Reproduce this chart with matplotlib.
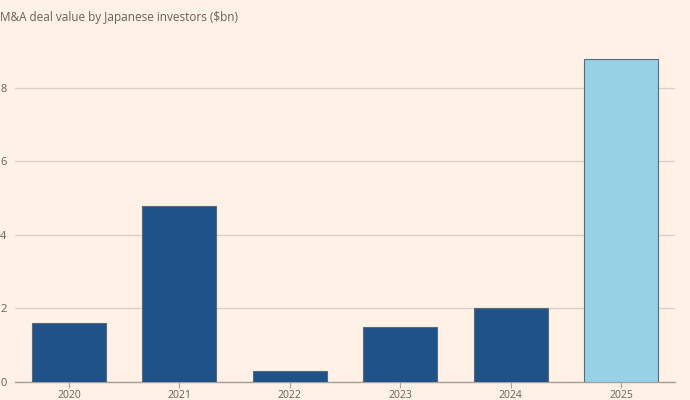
import matplotlib
matplotlib.use("Agg")
import matplotlib.pyplot as plt

# data
years = ["2020", "2021", "2022", "2023", "2024", "2025"]
values = [1.6, 4.8, 0.3, 1.5, 2.0, 8.8]
bar_colors = ["#1f5289", "#1f5289", "#1f5289", "#1f5289", "#1f5289", "#96d1e6"]
y_ticks = [0, 2, 4, 6, 8]
y_tick_labels = ["0", "2", "4", "6", "8"]

bg = "#fff1e5"
text_col = "#66605c"

plt.rcParams["font.family"] = ["Open Sans", "DejaVu Sans"]

fig = plt.figure(figsize=(6.9, 4.0), dpi=100, facecolor=bg)
ax = fig.add_axes([15 / 690, 18 / 400, 660 / 690, 340 / 400], facecolor=bg)

x = list(range(len(years)))
ax.bar(x, values, width=0.67, color=bar_colors, edgecolor="#5a6b78",
       linewidth=0.8, zorder=3)

ax.set_xlim(-0.49, 5.49)
ax.set_ylim(0, 9.25)

ax.set_yticks(y_ticks)
ax.set_yticklabels(y_tick_labels)
ax.yaxis.grid(True, color="#d9cec5", linewidth=0.9, zorder=0)
ax.tick_params(axis="y", length=0, pad=6, labelsize=8, labelcolor=text_col)

ax.set_xticks(x)
ax.set_xticklabels(years)
ax.tick_params(axis="x", length=4, width=0.8, color="#a8a09a", pad=1.5,
               labelsize=7.5, labelcolor=text_col)

for s in ["top", "right", "left"]:
    ax.spines[s].set_visible(False)
ax.spines["bottom"].set_color("#a8a09a")
ax.spines["bottom"].set_linewidth(1.0)

fig.text(0.0, 1 - 18 / 400, "M&A deal value by Japanese investors ($bn)",
         fontsize=8.5, color=text_col, ha="left", va="center")

fig.savefig("out.png", dpi=100, facecolor=bg)
